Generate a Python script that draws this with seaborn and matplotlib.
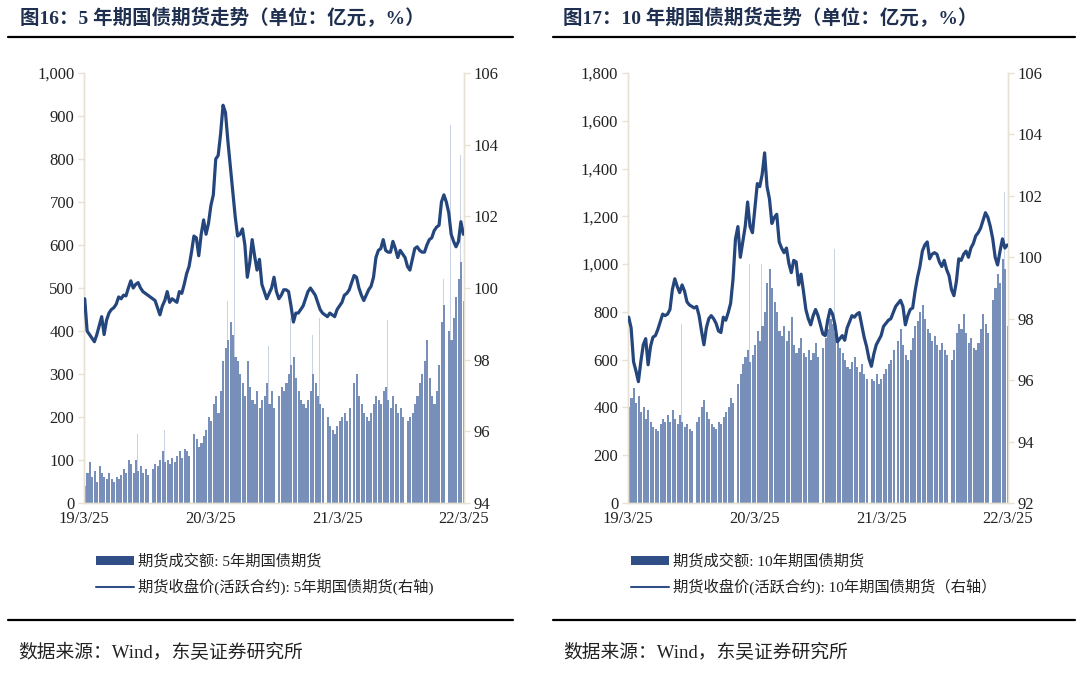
import numpy as np
import pandas as pd
import matplotlib
matplotlib.use("Agg")
import matplotlib.pyplot as plt
from matplotlib.ticker import FuncFormatter, MultipleLocator
from matplotlib.lines import Line2D
from matplotlib.patches import Patch
import seaborn as sns

# ---------------- data (weekly readings from the picture) ----------------
start_date = "2019-03-25"
n_weeks = 157

tf5_price = [99.7, 98.8, 98.7, 98.6, 98.5, 98.7, 98.95, 99.2, 98.7, 99.1,
             99.3, 99.4, 99.45, 99.55, 99.75, 99.7, 99.8, 99.78, 100.0, 100.2,
             100.0, 100.1, 100.15, 100.0, 99.9, 99.85, 99.8, 99.75, 99.7, 99.65,
             99.45, 99.25, 99.5, 99.65, 99.9, 99.6, 99.7, 99.65, 99.6, 99.9,
             99.85, 100.1, 100.4, 100.6, 101.0, 101.45, 101.4, 100.9, 101.5, 101.9,
             101.5, 101.8, 102.3, 102.6, 103.6, 103.7, 104.3, 105.1, 104.9, 104.1,
             103.4, 102.7, 102.0, 101.45, 101.5, 101.65, 101.2, 100.3, 100.7, 101.35,
             100.9, 100.5, 100.8, 100.1, 99.9, 99.7, 99.85, 100.0, 100.3, 99.9,
             99.7, 99.8, 99.95, 99.95, 99.9, 99.5, 99.05, 99.3, 99.3, 99.4,
             99.5, 99.7, 99.9, 100.0, 99.9, 99.8, 99.6, 99.4, 99.3, 99.25,
             99.2, 99.3, 99.25, 99.2, 99.4, 99.5, 99.6, 99.8, 99.85, 99.95,
             100.15, 100.35, 100.3, 100.0, 99.8, 99.65, 99.8, 99.95, 100.05, 100.3,
             100.85, 101.05, 101.1, 101.35, 101.05, 101.0, 101.0, 101.3, 101.1, 100.85,
             101.05, 100.95, 100.85, 100.6, 100.5, 100.8, 101.1, 101.15, 101.05, 101.0,
             101.0, 101.2, 101.35, 101.4, 101.6, 101.7, 101.75, 102.4, 102.6, 102.4,
             102.1, 101.5, 101.3, 101.15, 101.3, 101.85, 101.5]

tf5_volume = [40, 70, 95, 60, 75, 50, 85, 70, 60, 55,
              70, 55, 50, 60, 55, 65, 80, 70, 100, 90,
              70, 100, 75, 85, 70, 80, 65, 0, 80, 90,
              85, 100, 120, 95, 100, 90, 105, 95, 110, 120,
              105, 125, 120, 110, 0, 160, 150, 130, 140, 155,
              170, 200, 190, 230, 250, 210, 260, 330, 360, 380,
              420, 390, 340, 330, 300, 280, 250, 330, 270, 240,
              230, 260, 220, 240, 250, 280, 230, 260, 220, 0,
              250, 270, 260, 280, 300, 320, 340, 290, 260, 240,
              230, 220, 240, 260, 300, 280, 250, 230, 220, 0,
              200, 180, 170, 160, 180, 190, 200, 210, 190, 220,
              0, 280, 300, 250, 230, 210, 200, 190, 210, 230,
              250, 240, 230, 260, 270, 240, 220, 250, 230, 210,
              220, 200, 0, 190, 200, 210, 230, 250, 280, 300,
              330, 380, 290, 250, 230, 260, 320, 420, 460, 0,
              400, 380, 430, 480, 520, 560, 470]

tf5_spike_weeks = [2, 22, 33, 42, 46, 54, 59, 62, 67, 76, 85, 94, 97, 112, 125, 138, 148, 151, 155]
tf5_spike_values = [130, 160, 170, 170, 230, 345, 470, 620, 450, 365, 430, 390, 430, 500, 425, 540, 520, 880, 810]

t10_price = [98.05, 97.7, 96.6, 96.3, 95.95, 96.6, 97.15, 97.35, 96.5, 97.1,
             97.4, 97.45, 97.65, 97.9, 98.15, 98.1, 98.15, 98.3, 98.95, 99.3,
             99.05, 98.85, 99.1, 98.9, 98.55, 98.45, 98.4, 98.35, 98.4, 98.1,
             97.6, 97.15, 97.7, 98.0, 98.1, 98.0, 97.85, 97.6, 97.55, 98.05,
             97.95, 98.2, 98.5, 99.3, 100.6, 101.0, 100.0, 100.5, 101.0, 101.8,
             101.0, 100.8, 101.6, 102.4, 102.3, 102.7, 103.4, 102.3, 101.9, 101.1,
             101.3, 101.4, 100.5, 100.3, 100.15, 100.3, 99.8, 99.5, 99.9, 99.85,
             99.1, 99.45, 98.9, 98.3, 98.0, 97.8, 98.1, 98.3, 98.1, 97.8,
             97.5, 97.45, 97.95, 98.3, 98.15, 97.8, 97.25, 97.35, 97.45, 97.3,
             97.7, 97.9, 98.1, 98.05, 98.15, 98.2, 97.8, 97.4, 97.1, 96.7,
             96.45, 96.85, 97.15, 97.3, 97.45, 97.75, 97.85, 97.95, 98.0, 98.2,
             98.4, 98.5, 98.6, 98.4, 97.8, 98.1, 98.3, 98.35, 98.9, 99.35,
             99.7, 100.2, 100.4, 100.5, 99.95, 100.1, 100.15, 100.1, 99.85, 99.7,
             99.9, 99.6, 99.4, 98.95, 98.75, 99.2, 99.95, 99.9, 100.1, 100.2,
             100.0, 100.3, 100.45, 100.7, 100.8, 100.95, 101.2, 101.45, 101.3, 101.0,
             100.6, 100.0, 99.75, 100.2, 100.6, 100.3, 100.4]

t10_volume = [400, 440, 480, 420, 450, 380, 400, 350, 390, 340,
              320, 310, 300, 330, 350, 340, 370, 340, 390, 350,
              330, 370, 340, 320, 330, 310, 300, 0, 340, 360,
              400, 430, 380, 350, 330, 320, 310, 340, 330, 360,
              380, 400, 440, 420, 0, 500, 540, 580, 610, 640,
              590, 620, 660, 720, 680, 740, 800, 920, 980, 900,
              840, 800, 720, 700, 740, 680, 720, 780, 660, 630,
              650, 690, 630, 610, 640, 600, 630, 670, 610, 0,
              650, 690, 730, 770, 750, 710, 680, 650, 630, 600,
              570, 560, 590, 610, 570, 550, 580, 540, 520, 0,
              520, 510, 540, 500, 520, 540, 560, 580, 600, 640,
              0, 680, 730, 660, 620, 600, 640, 690, 740, 760,
              800, 830, 770, 730, 710, 680, 700, 660, 640, 670,
              640, 620, 0, 600, 640, 710, 750, 730, 790, 710,
              670, 690, 650, 640, 670, 730, 790, 750, 710, 0,
              850, 900, 960, 920, 1020, 980, 740]

t10_spike_weeks = [22, 32, 50, 55, 58, 67, 85, 96, 112, 124, 138, 150, 154, 155]
t10_spike_values = [750, 630, 1000, 1000, 1050, 1275, 1065, 1050, 1380, 920, 1590, 1475, 1575, 1300]

x_tick_dates = ["2019-03-25", "2020-03-25", "2021-03-25", "2022-03-25"]
x_tick_labels = ["19/3/25", "20/3/25", "21/3/25", "22/3/25"]

titles = ["图16：5 年期国债期货走势（单位：亿元，%）",
          "图17：10 年期国债期货走势（单位：亿元，%）"]
bar_labels = ["期货成交额: 5年期国债期货", "期货成交额: 10年期国债期货"]
line_labels = ["期货收盘价(活跃合约): 5年期国债期货(右轴)",
               "期货收盘价(活跃合约): 10年期国债期货（右轴）"]
source_text = "数据来源：Wind，东吴证券研究所"

# ---------------- style ----------------
sns.set_theme(style="white")
plt.rcParams["font.family"] = ["Liberation Serif", "Noto Sans CJK SC", "DejaVu Sans"]
plt.rcParams["axes.unicode_minus"] = False

BAR = "#7890b9"
SPIKE = "#c9d2e3"
LINE = "#24467c"
SPINE = "#e6e1d3"
TXT = "#222222"

dates = pd.date_range(start_date, periods=n_weeks, freq="7D")

fig = plt.figure(figsize=(10.8, 6.77), dpi=100)

panels = [
    dict(price=tf5_price, vol=tf5_volume, sw=tf5_spike_weeks, sv=tf5_spike_values,
         ax_left=84, vmax=1000, vstep=100, pmin=94, pmax=106, x0=8, x1=513, tx=20, lx=88, sx=18),
    dict(price=t10_price, vol=t10_volume, sw=t10_spike_weeks, sv=t10_spike_values,
         ax_left=628, vmax=1800, vstep=200, pmin=92, pmax=106, x0=553, x1=1075, tx=563, lx=623, sx=563),
]

W, H = 1080.0, 677.0

for i, p in enumerate(panels):
    ax = fig.add_axes([p["ax_left"] / W, 1 - 503 / H, 380 / W, 430 / H])
    ax2 = ax.twinx()

    # volume bars
    ax.bar(dates, p["vol"], width=6, align="edge", color=BAR, linewidth=0, zorder=2)
    spike_dates = dates[p["sw"]]
    ax.bar(spike_dates, p["sv"], width=1.2, align="edge", color=SPIKE, linewidth=0, zorder=1)

    # price line
    df = pd.DataFrame({"date": dates + pd.Timedelta(days=2), "price": p["price"]})
    sns.lineplot(data=df, x="date", y="price", ax=ax2, color=LINE, linewidth=2.3, zorder=3)

    ax.set_ylim(0, p["vmax"])
    ax.yaxis.set_major_locator(MultipleLocator(p["vstep"]))
    ax.yaxis.set_major_formatter(FuncFormatter(lambda v, _: f"{int(v):,}"))
    ax2.set_ylim(p["pmin"], p["pmax"])
    ax2.yaxis.set_major_locator(MultipleLocator(2))
    ax2.set_ylabel("")
    ax2.set_xlabel("")
    ax.set_xlabel("")

    ax.set_xlim(pd.Timestamp("2019-03-25"), pd.Timestamp("2022-03-25"))
    ax.set_xticks(pd.to_datetime(x_tick_dates))
    ax.set_xticklabels(x_tick_labels)

    for a in (ax, ax2):
        for s in a.spines.values():
            s.set_color(SPINE)
            s.set_linewidth(1.0)
        a.spines["top"].set_visible(False)
        a.grid(False)
        a.tick_params(axis="both", colors=SPINE, labelcolor=TXT, labelsize=12,
                      length=4, width=1.0, pad=3)
    ax.tick_params(axis="x", pad=2)
    ax.set_zorder(ax2.get_zorder() - 1)
    ax.patch.set_visible(False)
    ax2.patch.set_visible(False)

    # title and rules
    fig.text(p["tx"] / W, 1 - 18 / H, titles[i], fontsize=14, fontweight="bold",
             color="#1f2f4f", va="center", ha="left")
    fig.add_artist(Line2D([p["x0"] / W, p["x1"] / W], [1 - 37 / H, 1 - 37 / H],
                          color="black", linewidth=1.6))
    fig.add_artist(Line2D([p["x0"] / W, p["x1"] / W], [1 - 620 / H, 1 - 620 / H],
                          color="black", linewidth=1.6))
    fig.text(p["sx"] / W, 1 - 653 / H, source_text, fontsize=13.5, color=TXT,
             va="center", ha="left")

    # legend
    handles = [Patch(facecolor="#2f4f86", edgecolor="none"),
               Line2D([0], [0], color="#2f4f86", linewidth=1.5)]
    fig.legend(handles, [bar_labels[i], line_labels[i]],
               loc="upper left", bbox_to_anchor=((p["lx"] - 6) / W, 1 - 540 / H),
               frameon=False, fontsize=11, handlelength=2.5, handleheight=0.55,
               handletextpad=0.25, labelspacing=0.65, labelcolor=TXT)

fig.savefig("out.png", dpi=100)
